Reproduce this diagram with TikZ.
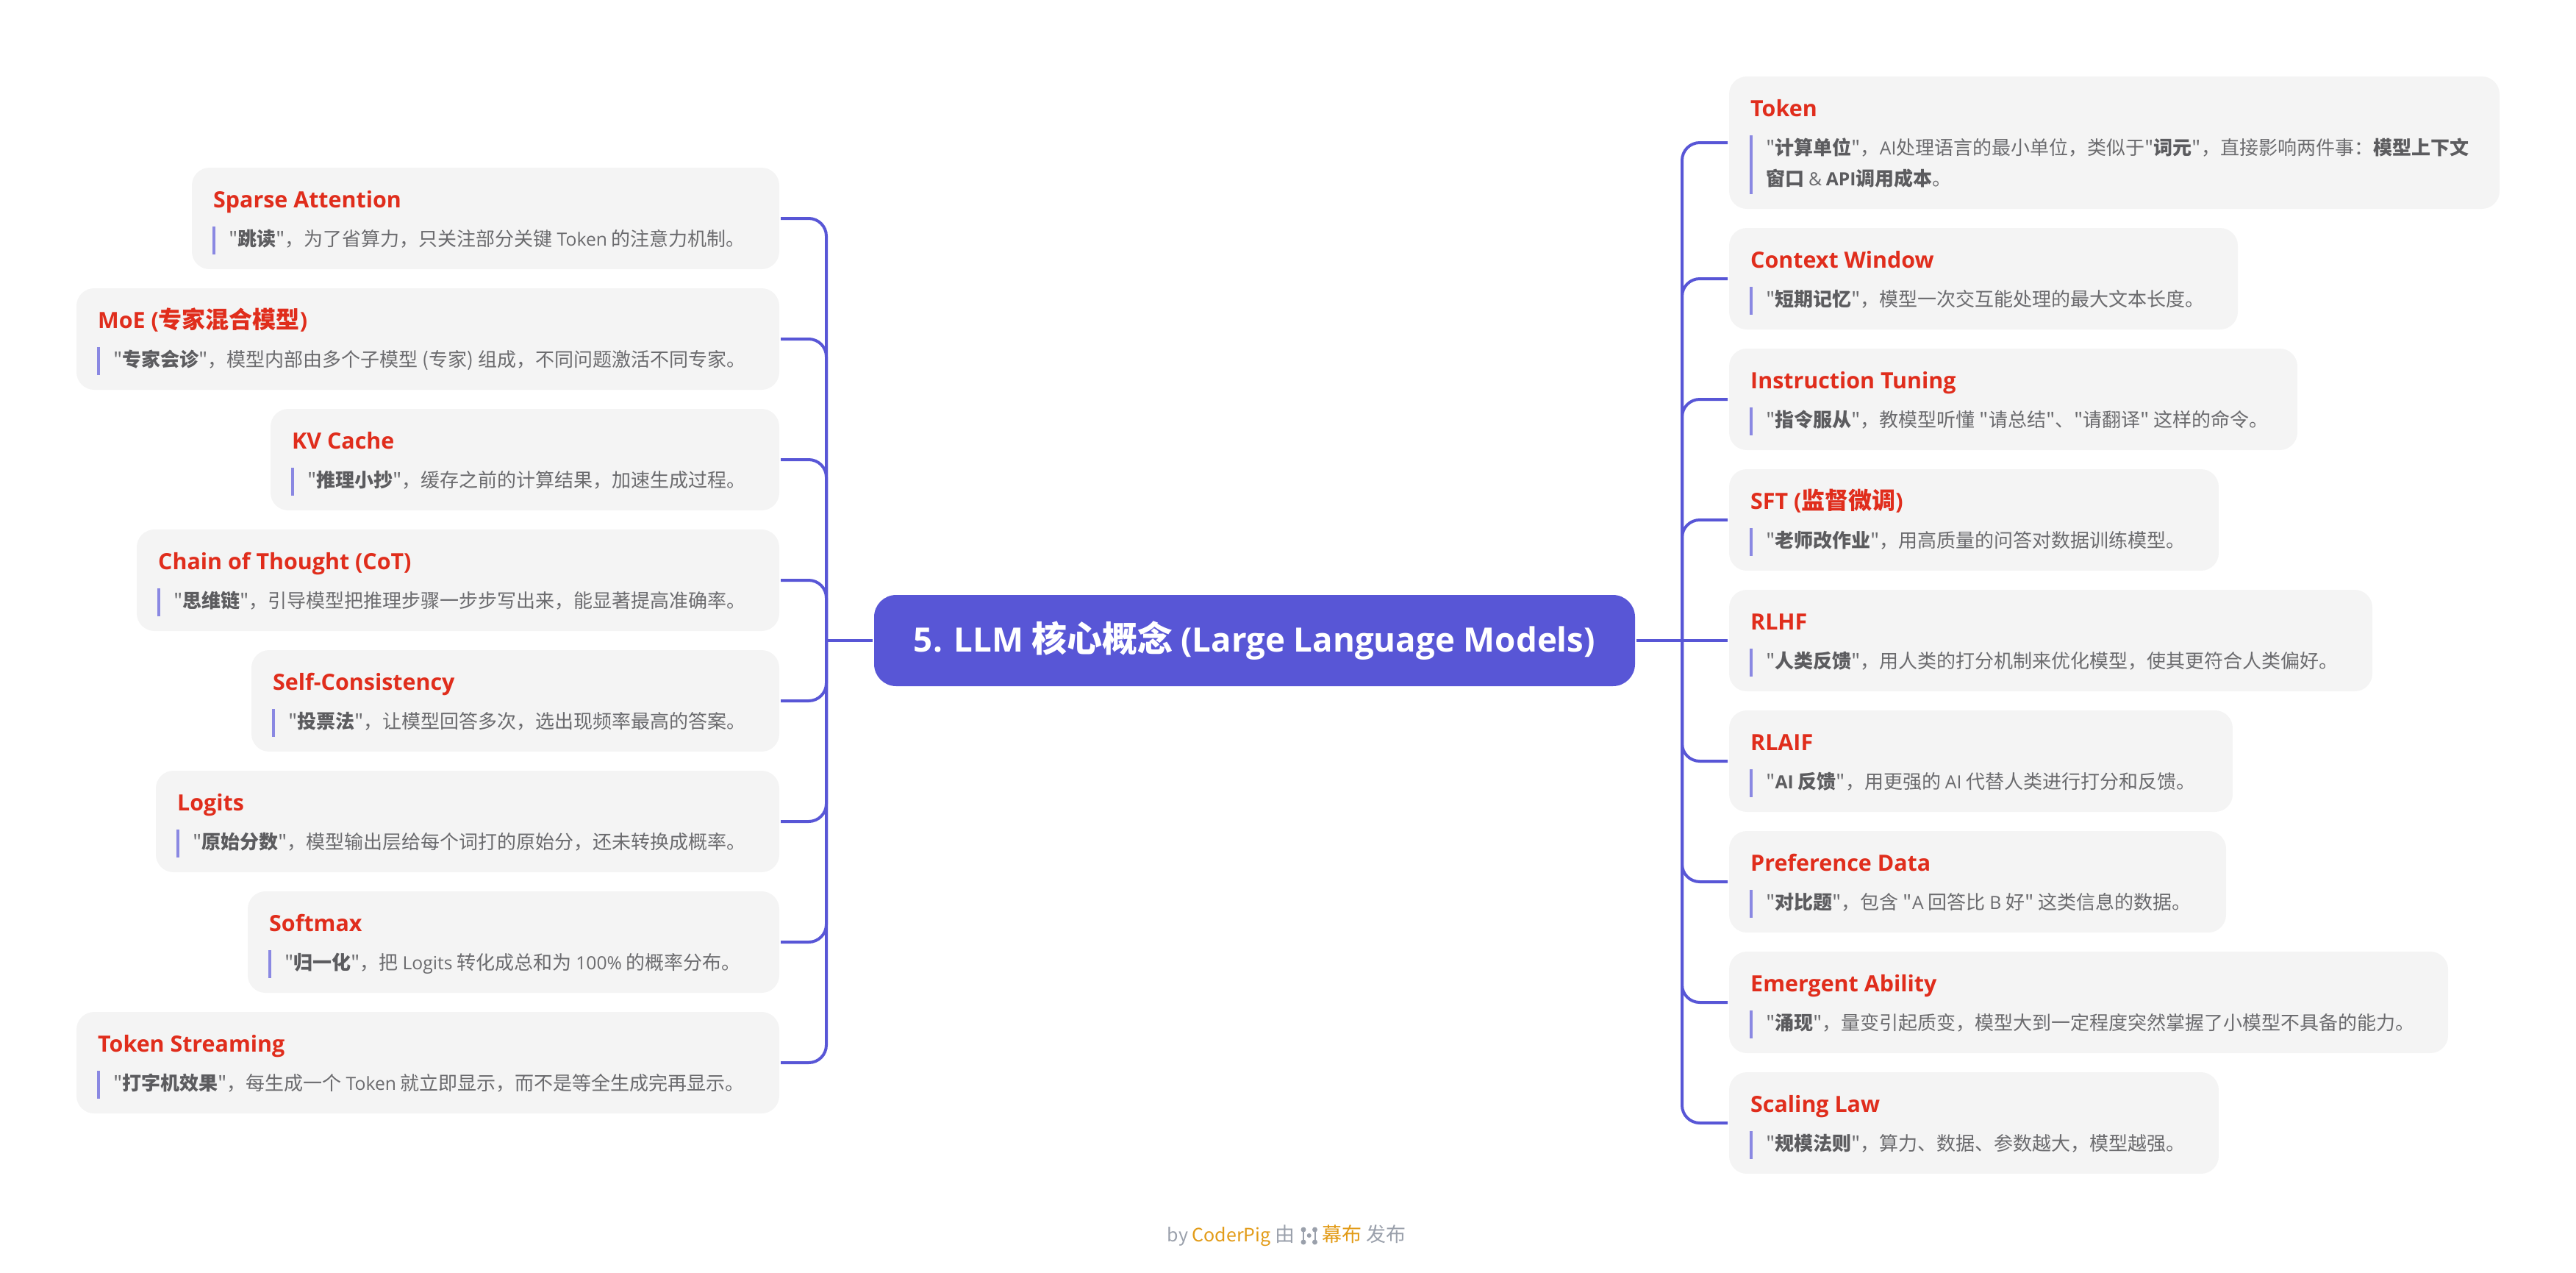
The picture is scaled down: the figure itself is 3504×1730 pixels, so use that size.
\documentclass[tikz,border=0pt]{standalone}
\usepackage{fontspec}
\newfontfamily\zhfont{Noto Sans CJK SC}
\newfontfamily\enfont{Open Sans}[Scale=0.95]
\AtBeginDocument{\zhfont}
\usetikzlibrary{calc}
\definecolor{MMIndigo}{HTML}{5856D6}
\definecolor{MMBar}{HTML}{8A88E2}
\definecolor{MMCard}{HTML}{F4F4F4}
\definecolor{MMRed}{HTML}{E02D1C}
\definecolor{MMText}{HTML}{6B6B6E}
\definecolor{MMBold}{HTML}{5C5C5F}
\definecolor{MMFoot}{HTML}{9AA0AB}
\definecolor{MMAmber}{HTML}{E29B17}
\tikzset{
  link/.style={MMIndigo,line width=4pt,rounded corners=24pt},
  tocard/.style={link,shorten >=2pt},
  rootbox/.style={fill=MMIndigo,rounded corners=30pt,minimum width=1035pt,minimum height=124pt,
                  inner sep=0pt,text=white,font=\fontsize{48}{58}\selectfont\bfseries},
  card/.style={fill=MMCard,rounded corners=24pt,anchor=north west,inner sep=0pt,outer sep=0pt},
  cardtitle/.style={anchor=base west,inner sep=0pt,text=MMRed,font=\fontsize{32}{38}\selectfont\bfseries},
  cardbody/.style={anchor=north west,inner sep=0pt,text=MMText,align=left,font=\fontsize{26}{42}\selectfont},
  quotebar/.style={fill=MMBar},
  footnote/.style={inner sep=0pt,text=MMFoot,font=\fontsize{27}{32}\selectfont},
}
\newcommand{\en}[1]{{\enfont #1}}
\newcommand{\hl}[1]{\textbf{\textcolor{MMBold}{#1}}}
\newcommand{\conceptcard}[7]{%
  \node[card,minimum width=#4pt,minimum height=#5pt] (#1) at (#2,#3) {};
  \node[cardtitle] (#1title) at ($(#1.north west)+(29,54)$) {#6};
  \fill[quotebar] ($(#1.north west)+(28,80)$) rectangle ($(#1.south west)+(32,-20)$);
  \node[cardbody] (#1body) at ($(#1.north west)+(50,84)$) {#7};
}

\begin{document}
\begin{tikzpicture}[x=1pt,y=-1pt]
    \useasboundingbox (0,0) rectangle (3504,1730);
    \node[rootbox] (root) at (1706.5,871) {\en{5. LLM} 核心概念 \en{(Large Language Models)}};
    \coordinate (trunkl) at (1124,871);
    \coordinate (trunkr) at (2288,871);

    \conceptcard{sparse}{261}{228}{799}{138}{\en{Sparse Attention}}{"\hl{跳读}"，为了省算力，只关注部分关键 \en{Token} 的注意力机制。}
    \conceptcard{moe}{104}{392}{956}{138}{\en{MoE (}专家混合模型\en{)}}{"\hl{专家会诊}"，模型内部由多个子模型 (专家) 组成，不同问题激活不同专家。}
    \conceptcard{kvcache}{368}{556}{692}{138}{\en{KV Cache}}{"\hl{推理小抄}"，缓存之前的计算结果，加速生成过程。}
    \conceptcard{cot}{186}{720}{874}{138}{\en{Chain of Thought (CoT)}}{"\hl{思维链}"，引导模型把推理步骤一步步写出来，能显著提高准确率。}
    \conceptcard{selfcons}{342}{884}{718}{138}{\en{Self-Consistency}}{"\hl{投票法}"，让模型回答多次，选出现频率最高的答案。}
    \conceptcard{logits}{212}{1048}{848}{138}{\en{Logits}}{"\hl{原始分数}"，模型输出层给每个词打的原始分，还未转换成概率。}
    \conceptcard{softmax}{337}{1212}{723}{138}{\en{Softmax}}{"\hl{归一化}"，把 \en{Logits} 转化成总和为 \en{100\%} 的概率分布。}
    \conceptcard{streaming}{104}{1376}{956}{138}{\en{Token Streaming}}{"\hl{打字机效果}"，每生成一个 \en{Token} 就立即显示，而不是等全生成完再显示。}

    \conceptcard{token}{2352}{104}{1048}{180}{\en{Token}}{"\hl{计算单位}"，\en{AI}处理语言的最小单位，类似于"\hl{词元}"，直接影响两件事：\hl{模型上下文}\\\hl{窗口} \en{\&} \hl{\en{API}调用成本}。}
    \conceptcard{context}{2352}{310}{692}{138}{\en{Context Window}}{"\hl{短期记忆}"，模型一次交互能处理的最大文本长度。}
    \conceptcard{instruct}{2352}{474}{773}{138}{\en{Instruction Tuning}}{"\hl{指令服从}"，教模型听懂 "请总结"、"请翻译" 这样的命令。}
    \conceptcard{sft}{2352}{638}{666}{138}{\en{SFT (}监督微调\en{)}}{"\hl{老师改作业}"，用高质量的问答对数据训练模型。}
    \conceptcard{rlhf}{2352}{802}{875}{138}{\en{RLHF}}{"\hl{人类反馈}"，用人类的打分机制来优化模型，使其更符合人类偏好。}
    \conceptcard{rlaif}{2352}{966}{685}{138}{\en{RLAIF}}{"\hl{\en{AI} 反馈}"，用更强的 \en{AI} 代替人类进行打分和反馈。}
    \conceptcard{prefdata}{2352}{1130}{676}{138}{\en{Preference Data}}{"\hl{对比题}"，包含 "\en{A} 回答比 \en{B} 好" 这类信息的数据。}
    \conceptcard{emergent}{2352}{1294}{978}{138}{\en{Emergent Ability}}{"\hl{涌现}"，量变引起质变，模型大到一定程度突然掌握了小模型不具备的能力。}
    \conceptcard{scaling}{2352}{1458}{666}{138}{\en{Scaling Law}}{"\hl{规模法则}"，算力、数据、参数越大，模型越强。}

    \draw[link,shorten <=2pt] (root.west) -- (trunkl);
    \draw[link,shorten <=2pt] (root.east) -- (trunkr);
    \foreach \nm in {sparse,moe,kvcache,cot,selfcons,logits,softmax,streaming}
      \draw[tocard] (trunkl) |- (\nm.east);
    \foreach \nm in {token,context,instruct,sft,rlaif,prefdata,emergent,scaling}
      \draw[tocard] (trunkr) |- (\nm.west);
    \draw[tocard] (trunkr) -- (rlhf.west);

    \node[footnote,anchor=base east] (footby) at (1762,1688) {{\fontsize{25}{32}\selectfont by \textcolor{MMAmber}{CoderPig}} 由};
    \node[footnote,anchor=base west] (footmubu) at (1798,1688) {\textcolor{MMAmber}{幕布} 发布};
    \foreach \x in {1773,1788.5} {
      \draw[MMFoot,line width=2pt] (\x,1672) -- (\x,1689);
      \fill[MMFoot] (\x,1672) circle (3.5) (\x,1689) circle (3.5);
    }
    \fill[MMFoot] (1780.7,1680) circle (3);
\end{tikzpicture}
\end{document}
